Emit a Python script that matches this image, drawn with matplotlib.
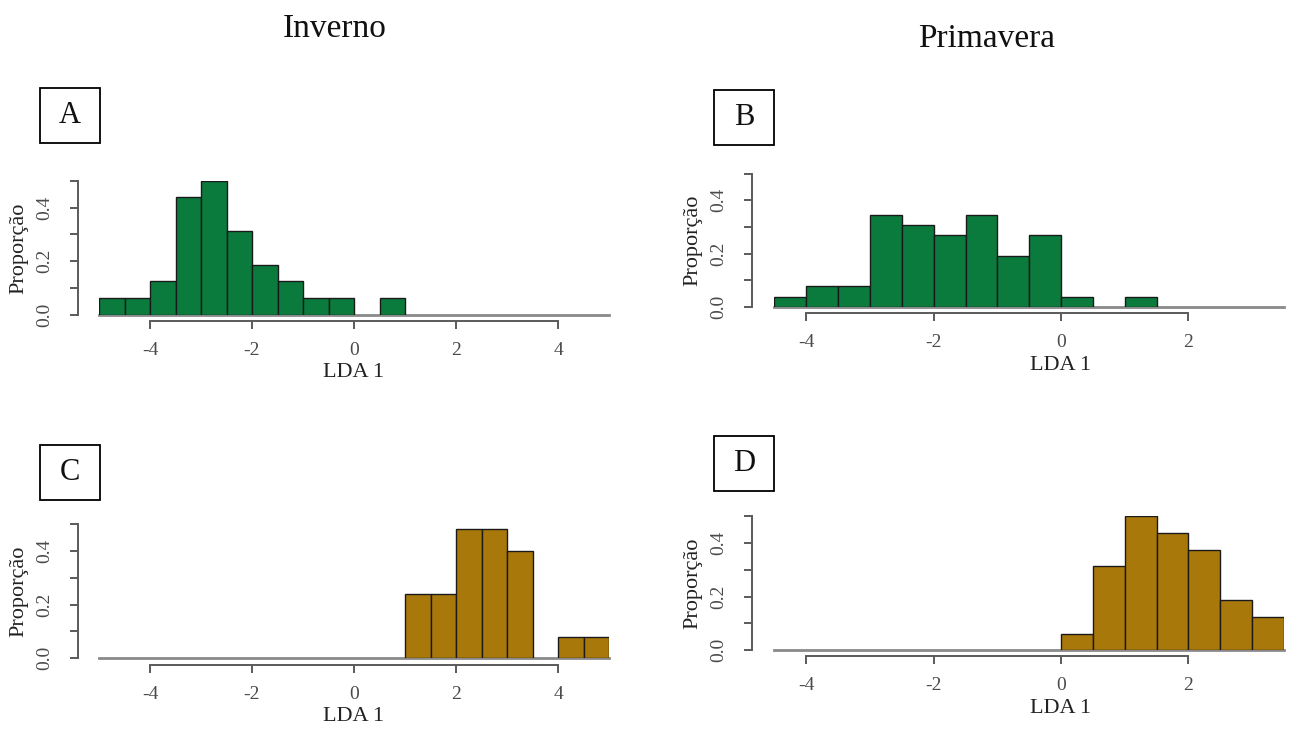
import matplotlib
matplotlib.use("Agg")
import matplotlib.pyplot as plt
from matplotlib.patches import Rectangle
import numpy as np

plt.rcParams['font.family'] = ['Liberation Serif', 'DejaVu Serif']

# Histogram counts per 0.5-wide bin of the first discriminant (LDA 1)
bin_width = 0.5
a_start = -5.0
a_counts = [1, 1, 2, 7, 8, 5, 3, 2, 1, 1, 0, 1]
b_start = -4.5
b_counts = [1, 2, 2, 9, 8, 7, 9, 5, 7, 1, 0, 1]
c_start = 1.0
c_counts = [3, 3, 6, 6, 5, 0, 1, 1]
d_start = 0.0
d_counts = [1, 5, 8, 7, 6, 3, 2]

season_titles = ["Inverno", "Primavera"]
panel_letters = ["A", "B", "C", "D"]
y_ticks = [0.0, 0.1, 0.2, 0.3, 0.4, 0.5]
y_tick_labels = ["0.0", "", "0.2", "", "0.4", ""]

GREEN = "#0b7a3d"
BROWN = "#a9780b"
AXIS_GRAY = "#5a5a5a"
BASE_GRAY = "#8a8a8a"
LABEL_GRAY = "#4a4a4a"

W, H = 1294, 729
fig = plt.figure(figsize=(W / 100, H / 100), dpi=100)


def fx(px):
    return px / W


def fy(py):
    return 1 - py / H


# panel layout in pixels: (left, right of data range, y of zero, y of 0.5)
panels = [
    dict(start=a_start, counts=a_counts, color=GREEN, xlim=(-5, 5), xticks=[-4, -2, 0, 2, 4],
         px=(99, 609), py=(315, 180.7), spine_x=78, spine_y=321, box=(40, 88)),
    dict(start=b_start, counts=b_counts, color=GREEN, xlim=(-4.5, 3.5), xticks=[-4, -2, 0, 2],
         px=(774.4, 1284), py=(307, 173.7), spine_x=752, spine_y=313, box=(714, 90)),
    dict(start=c_start, counts=c_counts, color=BROWN, xlim=(-5, 5), xticks=[-4, -2, 0, 2, 4],
         px=(99, 609), py=(658.3, 524), spine_x=78, spine_y=665, box=(40, 445)),
    dict(start=d_start, counts=d_counts, color=BROWN, xlim=(-4.5, 3.5), xticks=[-4, -2, 0, 2],
         px=(774.4, 1284), py=(650.3, 516), spine_x=752, spine_y=656, box=(714, 436)),
]

pt = 72 / 100  # points per pixel

for letter, p in zip(panel_letters, panels):
    l, r = p["px"]
    y0, y1 = p["py"]
    ax = fig.add_axes([fx(l), fy(y0), (r - l) / W, (y0 - y1) / H])
    ax.set_xlim(*p["xlim"])
    ax.set_ylim(0, 0.5)

    counts = np.array(p["counts"], dtype=float)
    dens = counts / (counts.sum() * bin_width)
    lefts = p["start"] + bin_width * np.arange(len(counts))
    keep = counts > 0

    ax.axhline(0, color=BASE_GRAY, lw=2.0, zorder=1, clip_on=False)
    ax.bar(lefts[keep], dens[keep], width=bin_width, align="edge",
           color=p["color"], edgecolor="#1a1a1a", linewidth=1.0, zorder=2)

    for side in ("top", "right"):
        ax.spines[side].set_visible(False)
    ax.spines["left"].set_position(("outward", (l - p["spine_x"]) * pt))
    ax.spines["bottom"].set_position(("outward", (p["spine_y"] - y0) * pt))
    ax.spines["left"].set_bounds(0, 0.5)
    ax.spines["bottom"].set_bounds(p["xticks"][0], p["xticks"][-1])
    for side in ("left", "bottom"):
        ax.spines[side].set_color(AXIS_GRAY)
        ax.spines[side].set_linewidth(1.4)

    ax.set_xticks(p["xticks"])
    ax.set_xticklabels([str(t) for t in p["xticks"]])
    ax.set_yticks(y_ticks)
    ax.set_yticklabels(y_tick_labels, rotation=90, va="center")
    ax.tick_params(axis="both", direction="out", length=6, width=1.4,
                   color=AXIS_GRAY, labelcolor=LABEL_GRAY, labelsize=14)
    ax.tick_params(axis="x", pad=9)
    ax.tick_params(axis="y", pad=12)
    ax.patch.set_alpha(0)

    # axis titles
    ax.annotate("LDA 1", xy=(0, 0), xycoords="data", xytext=(0, -58 * pt),
                textcoords="offset points", ha="center", va="center",
                fontsize=16, color="#222222", annotation_clip=False)
    fig.text(fx(p["spine_x"] - 59), fy((y0 + y1) / 2), "Proporção", rotation=90,
             ha="center", va="center", fontsize=16, color="#222222")

    # boxed panel letter
    bx, by = p["box"]
    bw, bh = 60, 55
    fig.add_artist(Rectangle((fx(bx), fy(by + bh)), bw / W, bh / H,
                             transform=fig.transFigure, fill=False,
                             edgecolor="black", linewidth=1.3))
    fig.text(fx(bx + bw / 2), fy(by + bh / 2), letter, ha="center", va="center",
             fontsize=22, color="#111111")

fig.text(fx(335), fy(37), season_titles[0], ha="center", va="baseline",
         fontsize=24, color="#111111")
fig.text(fx(987), fy(47), season_titles[1], ha="center", va="baseline",
         fontsize=24, color="#111111")

fig.savefig("out.png", dpi=100, facecolor="white")
